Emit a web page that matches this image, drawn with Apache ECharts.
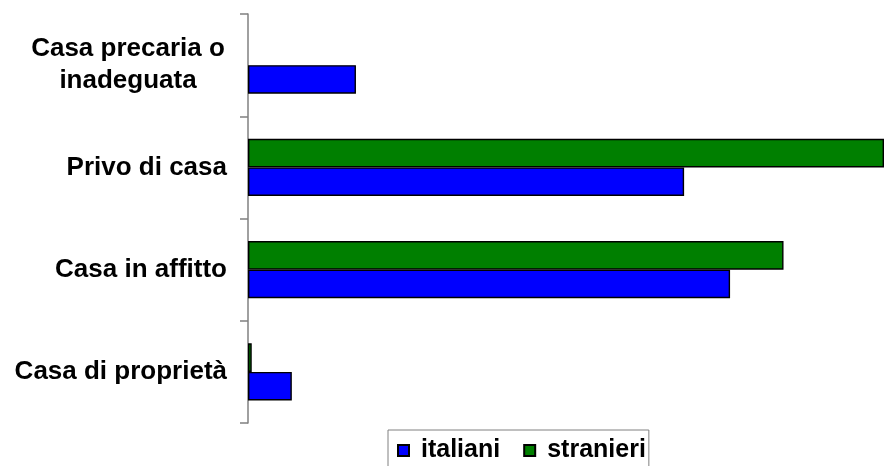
<!DOCTYPE html>
<html>
<head>
<meta charset="utf-8">
<script src="https://cdn.jsdelivr.net/npm/echarts@6/dist/echarts.min.js"></script>
<style>html,body{margin:0;padding:0;background:#fff}#c{width:884px;height:466px}</style>
</head>
<body>
<div id="c"></div>
<script>
// Categories listed bottom to top
var categories = ['Casa di proprietà', 'Casa in affitto', 'Privo di casa', 'Casa precaria o\ninadeguata'];
var italiani = [4.1, 45.1, 40.8, 10.1];
var stranieri = [0.35, 50.1, 59.5, null];
var seriesNames = ['italiani', 'stranieri'];
var axisMax = 59.5;

var FONT = '"Liberation Sans", Arial, sans-serif';
var chart = echarts.init(document.getElementById('c'), null, {renderer: 'canvas'});
chart.setOption({
  animation: false,
  backgroundColor: '#ffffff',
  grid: {left: 248, right: 0, top: 14, bottom: 43, containLabel: false},
  xAxis: {
    type: 'value', min: 0, max: axisMax, show: false
  },
  yAxis: {
    type: 'category',
    data: categories,
    axisLine: {show: true, lineStyle: {color: '#808080', width: 1.5}},
    axisTick: {show: true, length: 8, lineStyle: {color: '#808080', width: 1.5}},
    axisLabel: {
      margin: 21,
      color: '#000',
      fontSize: 26,
      fontWeight: 'bold',
      fontFamily: FONT,
      lineHeight: 32,
      formatter: function (v) {
        if (v.indexOf('\n') >= 0) {
          return v.split('\n').map(function (s) { return '{c|' + s + '}'; }).join('\n');
        }
        return v;
      },
      rich: {
        c: {width: 198, align: 'center', fontSize: 26, fontWeight: 'bold', fontFamily: FONT, color: '#000', lineHeight: 32}
      }
    },
    splitLine: {show: false}
  },
  legend: {
    data: seriesNames,
    left: 388,
    top: 430,
    orient: 'horizontal',
    icon: 'rect',
    itemWidth: 11,
    itemHeight: 11,
    itemGap: 23,
    padding: [8, 3, 12, 9],
    borderColor: '#808080',
    borderWidth: 1,
    textStyle: {fontSize: 25, fontWeight: 'bold', fontFamily: FONT, color: '#000', padding: [0, 0, 0, 7], lineHeight: 24}
  },
  series: [
    {
      name: seriesNames[1], type: 'bar', data: stranieri,
      barGap: '0%', barCategoryGap: '44%',
      itemStyle: {color: '#007f00', borderColor: '#000', borderWidth: 1.4}
    },
    {
      name: seriesNames[0], type: 'bar', data: italiani,
      barGap: '0%', barCategoryGap: '44%',
      itemStyle: {color: '#0000ff', borderColor: '#000', borderWidth: 1.4}
    }
  ]
});
</script>
</body>
</html>
